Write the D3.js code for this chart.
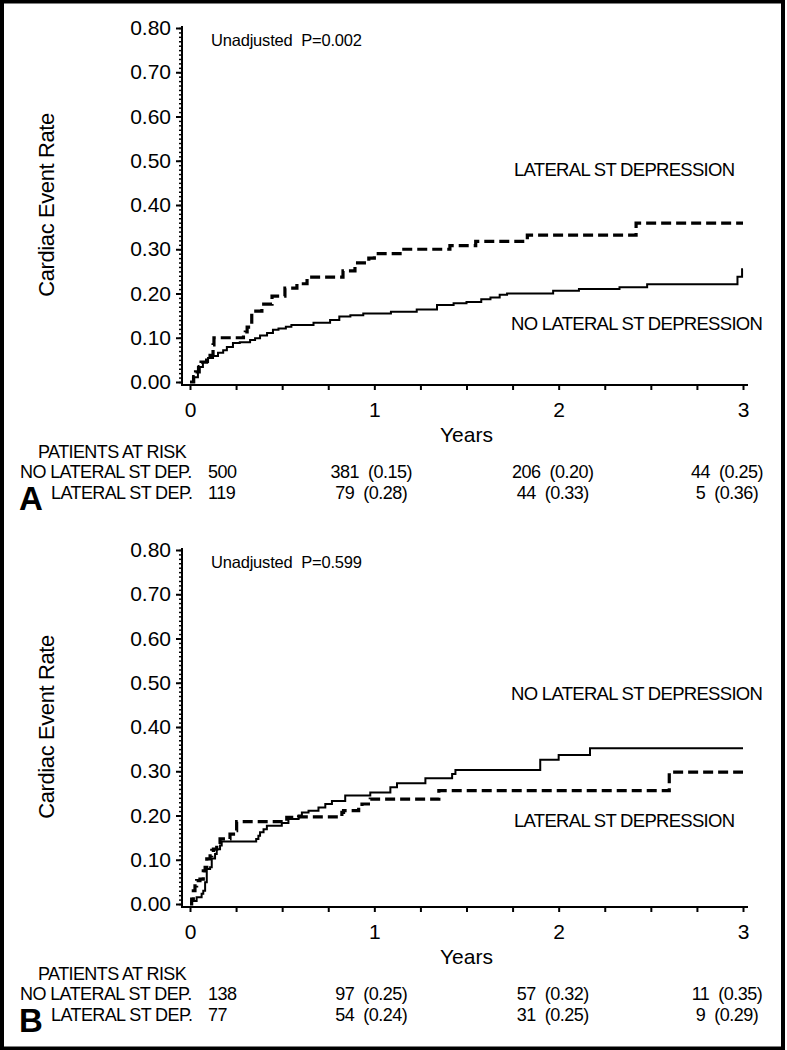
<!DOCTYPE html>
<html>
<head>
<meta charset="utf-8">
<script src="https://cdn.jsdelivr.net/npm/d3@7"></script>
<style>
  html, body { margin: 0; padding: 0; background: #fff; }
  svg { display: block; font-family: "Liberation Sans", Arial, Helvetica, sans-serif; }
</style>
</head>
<body>
<svg id="chart" width="787" height="1050"></svg>
<script>
// ---------------- DATA ----------------
const yTickValues = [0, 0.1, 0.2, 0.3, 0.4, 0.5, 0.6, 0.7, 0.8];
const xTickValues = [0, 1, 2, 3];
const groupNames = ["NO LATERAL ST DEPRESSION", "LATERAL ST DEPRESSION"];
const riskRowLabels = ["NO LATERAL ST DEP.", "LATERAL ST DEP."];
const riskYears = [0, 1, 2, 3];

// Panel A
const pValueA = "Unadjusted  P=0.002";
const noLateralA = [[0,0],[0.016,0.011],[0.043,0.034],[0.07,0.045],[0.098,0.054],[0.125,0.059],[0.152,0.066],[0.18,0.072],[0.2,0.079],[0.233,0.088],[0.27,0.09],[0.326,0.095],[0.353,0.099],[0.38,0.105],[0.418,0.111],[0.45,0.118],[0.48,0.121],[0.52,0.125],[0.55,0.129],[0.67,0.134],[0.76,0.14],[0.81,0.148],[0.87,0.151],[0.94,0.155],[1.09,0.159],[1.23,0.164],[1.34,0.174],[1.43,0.178],[1.5,0.181],[1.58,0.187],[1.63,0.191],[1.68,0.197],[1.72,0.2],[1.97,0.206],[2.11,0.21],[2.33,0.214],[2.48,0.221],[2.97,0.238],[2.995,0.255],[3.0,0.255]];
const lateralA = [[0,0],[0.02,0.012],[0.03,0.023],[0.05,0.035],[0.06,0.045],[0.09,0.055],[0.1,0.06],[0.125,0.084],[0.13,0.1],[0.29,0.108],[0.3,0.113],[0.31,0.124],[0.33,0.129],[0.335,0.16],[0.39,0.176],[0.445,0.194],[0.515,0.212],[0.58,0.222],[0.635,0.237],[0.83,0.251],[0.895,0.269],[0.97,0.28],[1.0,0.29],[1.16,0.30],[1.41,0.308],[1.55,0.318],[1.83,0.332],[2.42,0.359],[3.0,0.359]];
const riskNoLateralA = [500, 381, 206, 44];
const rateNoLateralA = [null, "0.15", "0.20", "0.25"];
const riskLateralA = [119, 79, 44, 5];
const rateLateralA = [null, "0.28", "0.33", "0.36"];

// Panel B
const pValueB = "Unadjusted  P=0.599";
const noLateralB = [[0,0],[0.009,0.007],[0.036,0.015],[0.063,0.023],[0.072,0.03],[0.082,0.049],[0.091,0.079],[0.109,0.083],[0.118,0.103],[0.136,0.113],[0.145,0.124],[0.163,0.132],[0.172,0.141],[0.359,0.147],[0.371,0.154],[0.38,0.162],[0.399,0.169],[0.417,0.177],[0.498,0.183],[0.534,0.192],[0.589,0.2],[0.607,0.207],[0.643,0.211],[0.697,0.218],[0.734,0.226],[0.77,0.233],[0.842,0.245],[0.978,0.252],[1.087,0.264],[1.123,0.273],[1.277,0.284],[1.422,0.294],[1.44,0.303],[1.9,0.326],[2.0,0.337],[2.17,0.352],[3.0,0.352]];
const lateralB = [[0,0],[0.009,0.011],[0.018,0.03],[0.027,0.041],[0.036,0.053],[0.054,0.056],[0.072,0.075],[0.082,0.083],[0.091,0.102],[0.109,0.109],[0.118,0.121],[0.127,0.124],[0.145,0.139],[0.163,0.147],[0.217,0.158],[0.245,0.166],[0.253,0.186],[0.525,0.196],[0.589,0.197],[0.824,0.207],[0.833,0.211],[0.915,0.218],[0.933,0.226],[0.978,0.237],[1.35,0.256],[2.6,0.298],[3.0,0.298]];
const riskNoLateralB = [138, 97, 57, 11];
const rateNoLateralB = [null, "0.25", "0.32", "0.35"];
const riskLateralB = [77, 54, 31, 9];
const rateLateralB = [null, "0.24", "0.25", "0.29"];

// ---------------- DRAW ----------------
const svg = d3.select("#chart");
svg.append("rect").attr("x", 0).attr("y", 0).attr("width", 787).attr("height", 1050).attr("fill", "#fff");

const minorY = d3.range(0, 81).map(i => i / 100);
const quarterX = d3.range(0, 13).map(i => i / 4);

function drawPanel(cfg) {
  const top = cfg.top, bottom = cfg.top + 354;
  const axisX = 182;
  const x = d3.scaleLinear().domain([0, 3]).range([190, 743]);
  const y = d3.scaleLinear().domain([0, 0.8]).range([bottom, top]);
  const g = svg.append("g");

  // Y axis minor ticks
  g.append("g").attr("transform", `translate(${axisX},0)`)
    .call(d3.axisLeft(y).tickValues(minorY).tickSize(3).tickSizeOuter(0).tickFormat(""))
    .call(s => s.select(".domain").remove())
    .call(s => s.selectAll("line").attr("stroke", "#000").attr("stroke-width", 1.5));
  // Y axis major
  g.append("g").attr("transform", `translate(${axisX},0)`)
    .call(d3.axisLeft(y).tickValues(yTickValues).tickSize(6).tickSizeOuter(0).tickPadding(5).tickFormat(d3.format(".2f")))
    .call(s => s.select(".domain").attr("stroke", "#000").attr("stroke-width", 2)
      .attr("d", `M0,${y(0.8) - 2}V${bottom + 4}`))
    .call(s => s.selectAll("line").attr("stroke", "#000").attr("stroke-width", 2))
    .call(s => s.selectAll("text").attr("font-size", 21).attr("fill", "#000")
      .attr("font-family", "Liberation Sans, Arial, sans-serif"));

  // X axis
  g.append("g").attr("transform", `translate(0,${bottom + 3})`)
    .call(d3.axisBottom(x).tickValues(quarterX).tickSize(5).tickSizeOuter(0).tickPadding(12)
      .tickFormat(d => xTickValues.includes(d) ? String(d) : ""))
    .call(s => s.select(".domain").attr("stroke", "#000").attr("stroke-width", 2)
      .attr("d", `M${axisX - 1},0H${x(3) + 5}`))
    .call(s => s.selectAll("line").attr("stroke", "#000").attr("stroke-width", 2))
    .call(s => s.selectAll("text").attr("font-size", 21).attr("fill", "#000")
      .attr("font-family", "Liberation Sans, Arial, sans-serif"));

  // Y label
  g.append("text")
    .attr("transform", `translate(54,${(y(0.8) + y(0)) / 2}) rotate(-90)`)
    .attr("text-anchor", "middle").attr("font-size", 22).attr("letter-spacing", -0.4)
    .text("Cardiac Event Rate");

  // X label
  g.append("text").attr("x", x(1.5)).attr("y", bottom + 60)
    .attr("text-anchor", "middle").attr("font-size", 21).text("Years");

  // P value
  g.append("text").attr("x", 211).attr("y", top + 18)
    .attr("font-size", 16.5).attr("letter-spacing", -0.2)
    .attr("xml:space", "preserve").style("white-space", "pre").text(cfg.pValue);

  // curves
  const line = d3.line().curve(d3.curveStepAfter).x(d => x(d[0])).y(d => y(d[1]));
  g.append("path").datum(cfg.noLateral).attr("d", line)
    .attr("fill", "none").attr("stroke", "#000").attr("stroke-width", 2);
  g.append("path").datum(cfg.lateral).attr("d", line)
    .attr("fill", "none").attr("stroke", "#000").attr("stroke-width", 3.2)
    .attr("stroke-dasharray", "10,5");

  // group labels
  cfg.groupLabels.forEach(l => {
    g.append("text").attr("x", l.x).attr("y", y(l.v))
      .attr("font-size", 18.5).attr("letter-spacing", -0.7).text(l.text);
  });

  // at-risk table
  g.append("text").attr("x", 38).attr("y", bottom + 76)
    .attr("font-size", 18).attr("letter-spacing", -0.6).text("PATIENTS AT RISK");
  const rows = [
    { label: riskRowLabels[0], lx: 20, counts: cfg.riskNo, rates: cfg.rateNo, dy: 96 },
    { label: riskRowLabels[1], lx: 51, counts: cfg.riskLat, rates: cfg.rateLat, dy: 117 }
  ];
  const colOffset = [0, -3, -6, -16];
  rows.forEach(r => {
    const yy = bottom + r.dy;
    g.append("text").attr("x", r.lx).attr("y", yy)
      .attr("font-size", 18).attr("letter-spacing", -0.6).text(r.label);
    riskYears.forEach((t, i) => {
      if (i === 0) {
        g.append("text").attr("x", x(t) + 18).attr("y", yy)
          .attr("font-size", 18).attr("letter-spacing", -0.5).text(String(r.counts[i]));
      } else {
        g.append("text").attr("x", x(t) + colOffset[i]).attr("y", yy)
          .attr("text-anchor", "middle").attr("font-size", 18).attr("letter-spacing", -0.5)
          .style("white-space", "pre")
          .text(`${r.counts[i]}  (${r.rates[i]})`);
      }
    });
  });

  // panel letter
  g.append("text").attr("x", 19).attr("y", bottom + 128)
    .attr("font-size", 33).attr("font-weight", "bold").text(cfg.letter);
}

drawPanel({
  top: 28, letter: "A", pValue: pValueA,
  noLateral: noLateralA, lateral: lateralA,
  riskNo: riskNoLateralA, rateNo: rateNoLateralA, riskLat: riskLateralA, rateLat: rateLateralA,
  groupLabels: [
    { text: groupNames[1], x: 514, v: 0.466 },
    { text: groupNames[0], x: 511, v: 0.118 }
  ]
});

drawPanel({
  top: 550, letter: "B", pValue: pValueB,
  noLateral: noLateralB, lateral: lateralB,
  riskNo: riskNoLateralB, rateNo: rateNoLateralB, riskLat: riskLateralB, rateLat: rateLateralB,
  groupLabels: [
    { text: groupNames[0], x: 511, v: 0.461 },
    { text: groupNames[1], x: 514, v: 0.174 }
  ]
});

// outer frame
svg.append("rect").attr("x", 2).attr("y", 1.5).attr("width", 781).attr("height", 1047)
  .attr("fill", "none").attr("stroke", "#000").attr("stroke-width", 4);
</script>
</body>
</html>
